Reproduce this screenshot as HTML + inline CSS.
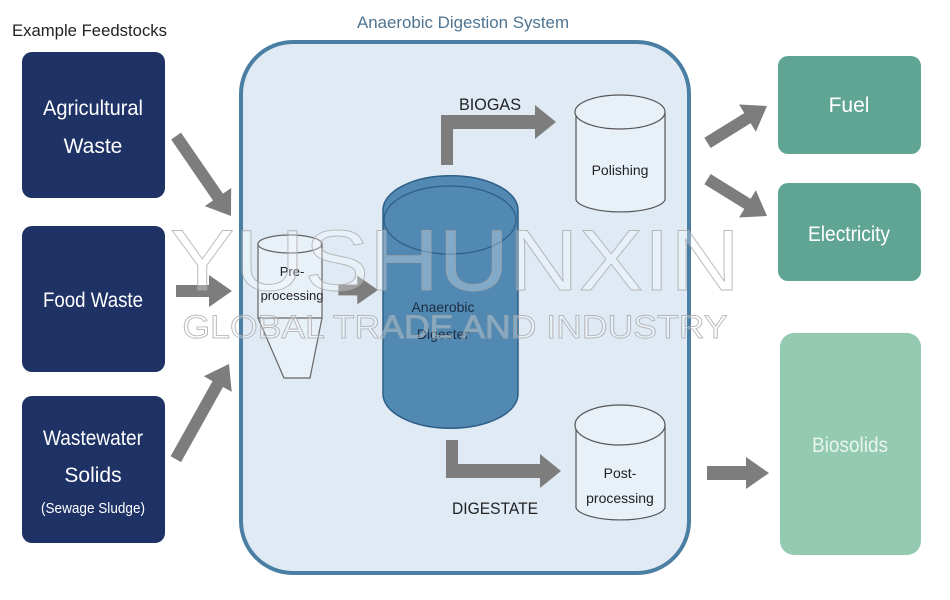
<!DOCTYPE html>
<html><head><meta charset="utf-8"><style>
html,body{margin:0;padding:0;background:#fff;width:950px;height:600px;overflow:hidden}
svg{display:block}
text{font-family:"Liberation Sans",sans-serif}
</style></head><body>
<svg width="950" height="600" viewBox="0 0 950 600" xmlns="http://www.w3.org/2000/svg">
<defs>
<polygon id="arr" points="-23,-16 0,0 -23,16" fill="#7d7d7d"/>
</defs>
<text x="12" y="36" font-size="17" fill="#222" textLength="155" lengthAdjust="spacingAndGlyphs">Example Feedstocks</text>
<text x="463" y="28" font-size="17" fill="#4e7491" text-anchor="middle" textLength="212" lengthAdjust="spacingAndGlyphs">Anaerobic Digestion System</text>
<!-- left boxes -->
<rect x="22" y="52" width="143" height="146" rx="10" fill="#1e3266"/>
<rect x="22" y="226" width="143" height="146" rx="10" fill="#1e3266"/>
<rect x="22" y="396" width="143" height="147" rx="10" fill="#1e3266"/>
<g fill="#fff" font-size="21" text-anchor="middle">
<text x="93" y="115" textLength="100" lengthAdjust="spacingAndGlyphs">Agricultural</text>
<text x="93" y="153">Waste</text>
<text x="93" y="307" textLength="100" lengthAdjust="spacingAndGlyphs">Food Waste</text>
<text x="93" y="445" textLength="100" lengthAdjust="spacingAndGlyphs">Wastewater</text>
<text x="93" y="482">Solids</text>
<text x="93" y="513" font-size="15" textLength="104" lengthAdjust="spacingAndGlyphs">(Sewage Sludge)</text>
</g>
<!-- system box -->
<rect x="241" y="42" width="448" height="531" rx="52" fill="#dfeaf5" stroke="#4a7fa3" stroke-width="4"/>
<!-- arrows -->
<g fill="#7d7d7d">
<g transform="translate(231,216) rotate(55.5)"><rect x="-97" y="-6" width="76" height="12"/><use href="#arr"/></g>
<g transform="translate(232,291)"><rect x="-56" y="-6" width="36" height="12"/><use href="#arr"/></g>
<g transform="translate(229,364) rotate(-60.8)"><rect x="-109" y="-6" width="88" height="12"/><use href="#arr"/></g>
<g transform="translate(378,290) scale(0.9)"><rect x="-44" y="-6" width="24" height="12"/><use href="#arr"/></g>
<polygon points="441,165 441,115 535,115 535,105 556,122 535,139 535,129 453,129 453,165"/>
<polygon points="446,440 446,478 540,478 540,488 561,471 540,454 540,464 458,464 458,440"/>
<g transform="translate(767,106) rotate(-31.8)"><rect x="-70" y="-6" width="50" height="12"/><use href="#arr"/></g>
<g transform="translate(767,216) rotate(31.8)"><rect x="-70" y="-6" width="50" height="12"/><use href="#arr"/></g>
<g transform="translate(769,473)"><rect x="-62" y="-7" width="42" height="14"/><use href="#arr"/></g>
</g>
<!-- pre-processing -->
<g fill="#e8f0f8" stroke="#666" stroke-width="1.2">
<path d="M258,244 L258,318 L284,378 L310,378 L322,318 L322,244 Z"/>
<ellipse cx="290" cy="244" rx="32" ry="9"/>
<line x1="258" y1="318" x2="322" y2="318"/>
</g>
<text x="292" y="276" font-size="13" fill="#222" text-anchor="middle">Pre-</text>
<text x="292" y="300" font-size="13" fill="#222" text-anchor="middle">processing</text>
<!-- digester -->
<path d="M383,210 L383,394 A67,34 0 0 0 518,394 L518,210 A67,34 0 0 0 383,210 Z" fill="#5189b3" stroke="#2e5e85" stroke-width="1.5"/>
<ellipse cx="450" cy="220" rx="66" ry="34" fill="none" stroke="#2e5e85" stroke-width="1.2"/>
<text x="443" y="312" font-size="14" fill="#1c2c40" text-anchor="middle">Anaerobic</text>
<text x="443" y="339" font-size="14" fill="#1c2c40" text-anchor="middle">Digester</text>
<!-- polishing -->
<g fill="#e8f0f8" stroke="#555" stroke-width="1.2">
<path d="M576,112 L576,200 A45,14 0 0 0 665,200 L665,112"/>
<ellipse cx="620" cy="112" rx="45" ry="17"/>
</g>
<text x="620" y="175" font-size="14" fill="#222" text-anchor="middle">Polishing</text>
<!-- post-processing -->
<g fill="#e8f0f8" stroke="#555" stroke-width="1.2">
<path d="M576,425 L576,508 A45,14 0 0 0 665,508 L665,425"/>
<ellipse cx="620" cy="425" rx="45" ry="20"/>
</g>
<text x="620" y="478" font-size="14" fill="#222" text-anchor="middle">Post-</text>
<text x="620" y="503" font-size="14" fill="#222" text-anchor="middle">processing</text>
<text x="459" y="110" font-size="17" fill="#222" textLength="62" lengthAdjust="spacingAndGlyphs">BIOGAS</text>
<text x="452" y="514" font-size="17" fill="#222" textLength="86" lengthAdjust="spacingAndGlyphs">DIGESTATE</text>
<!-- right boxes -->
<rect x="778" y="56" width="143" height="98" rx="10" fill="#60a594"/>
<rect x="778" y="183" width="143" height="98" rx="10" fill="#60a594"/>
<rect x="780" y="333" width="141" height="222" rx="14" fill="#93cab1"/>
<g fill="#fff" font-size="21" text-anchor="middle">
<text x="849" y="112">Fuel</text>
<text x="849" y="241" textLength="82" lengthAdjust="spacingAndGlyphs">Electricity</text>
<text x="850" y="452" fill="#e8f6ee" textLength="76" lengthAdjust="spacingAndGlyphs">Biosolids</text>
</g>
<!-- watermark -->
<g fill="#fff" fill-opacity="0.35" stroke="#aaa" stroke-width="0.9" opacity="0.8">
<text x="455" y="290" font-size="86" text-anchor="middle" textLength="570" lengthAdjust="spacingAndGlyphs">YUSHUNXIN</text>
<text x="455" y="338" font-size="32" text-anchor="middle" textLength="545" lengthAdjust="spacingAndGlyphs">GLOBAL TRADE AND INDUSTRY</text>
</g>
</svg>
</body></html>
